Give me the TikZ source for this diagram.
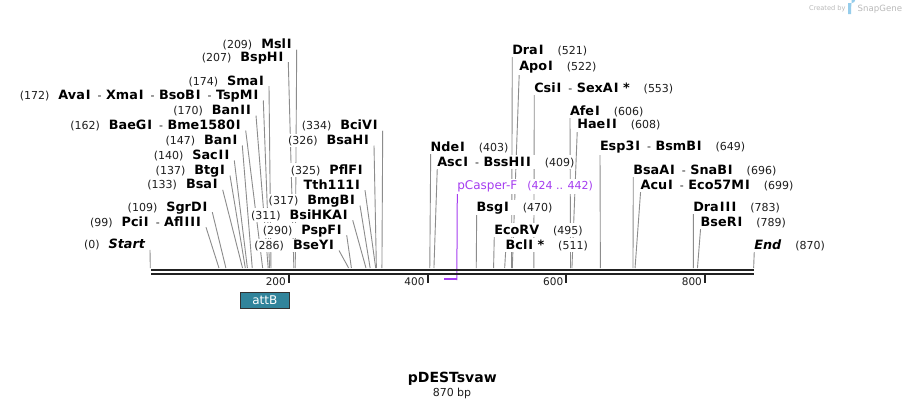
\documentclass[tikz,border=0pt]{standalone}
\usepackage{fontspec}
\setmainfont{DejaVu Sans}
\XeTeXinterchartokenstate=1
\newXeTeXintercharclass\Icls
\XeTeXcharclass`\I=\Icls
\XeTeXinterchartoks 0 \Icls = {\kern0.9pt}
\XeTeXinterchartoks \Icls \Icls = {\kern1.1pt}
\XeTeXinterchartoks \Icls 0 = {\kern0.5pt}
\definecolor{cutc}{RGB}{140,140,140}
\definecolor{numc}{RGB}{30,30,30}
\definecolor{bbc}{RGB}{34,34,34}
\definecolor{primc}{RGB}{165,60,240}
\definecolor{featc}{RGB}{49,132,155}
\definecolor{featb}{RGB}{50,50,50}
\definecolor{logoc}{RGB}{185,185,185}
\definecolor{logob}{RGB}{150,205,235}
\newcommand\numf{\mdseries\upshape\fontsize{11}{13}\selectfont\color{numc}}
\newcommand\namef{\fontsize{12.8}{15}\selectfont\bfseries}
\newcommand\sepx{\hspace{7pt}{\numf -}\hspace{4.5pt}}
\pgfdeclarelayer{bg}
\pgfsetlayers{bg,main}
\tikzset{
  lbl/.style={inner xsep=1pt, inner ysep=1.5pt, outer sep=0pt, fill=white},
  cut/.style={draw=cutc, line width=0.9pt},
}
% left-side label: id, right edge of name, y centre, number, names, site
\newcommand\enzL[6]{%
  \node[lbl,anchor=base east] (#1) at (#2+1,#3+4.5) {{\numf #4}\hspace{9pt}{\namef #5}};
  \coordinate (#1s) at ({150.3+#6*0.6935},268);
  \begin{pgfonlayer}{bg}
    \draw[cut] ([xshift=4pt,yshift=-1pt]#1.base east) -- (#1s);
  \end{pgfonlayer}
}
% right-side label: id, left edge of name, y centre, names, number, site
\newcommand\enzR[6]{%
  \node[lbl,anchor=base west] (#1) at (#2-1,#3+4.5) {{\namef #4}\hspace{14pt}{\numf #5}};
  \coordinate (#1s) at ({150.3+#6*0.6935},268);
  \begin{pgfonlayer}{bg}
    \draw[cut] ([xshift=1pt,yshift=-1pt]#1.base west) -- (#1s);
  \end{pgfonlayer}
}
\begin{document}
\begin{tikzpicture}[x=1pt,y=-1pt]
\useasboundingbox (0,0) rectangle (906,408);
\begin{pgfonlayer}{bg}
  \fill[white] (0,0) rectangle (906,408);
\end{pgfonlayer}

% left group
\enzL{msl}{291.7}{44}{(209)}{MslI}{209}
\enzL{bsph}{283.3}{56.7}{(207)}{BspHI}{207}
\enzL{sma}{264}{80.7}{(174)}{SmaI}{174}
\enzL{ava}{258.3}{95}{(172)}{AvaI\sepx XmaI\sepx BsoBI\sepx TspMI}{172}
\enzL{bantwo}{251}{110}{(170)}{BanII}{170}
\enzL{baeg}{240.7}{125}{(162)}{BaeGI\sepx Bme1580I}{162}
\enzL{banone}{237.3}{140}{(147)}{BanI}{147}
\enzL{sac}{229.3}{155}{(140)}{SacII}{140}
\enzL{btg}{225}{170}{(137)}{BtgI}{137}
\enzL{bsa}{217.7}{184.3}{(133)}{BsaI}{133}
\enzL{sgr}{207.3}{206.7}{(109)}{SgrDI}{109}
\enzL{pci}{201}{221.7}{(99)}{PciI\sepx AflIII}{99}
\enzL{start}{145}{244.3}{(0)}{\itshape Start}{0}

% middle-left group
\enzL{bci}{377.7}{125}{(334)}{BciVI}{334}
\enzL{bsah}{369}{140}{(326)}{BsaHI}{326}
\node[lbl,anchor=base east] (pfl) at (363.7,174.5) {{\numf (325)}\hspace{9pt}{\namef PflFI}};
\node[lbl,anchor=base east] (tth) at (361,189.2) {{\namef Tth111I}};
\coordinate (tths) at ({150.3+325*0.6935},268);
\begin{pgfonlayer}{bg}
  \draw[cut] ([xshift=4pt,yshift=-1pt]tth.base east) -- (tths);
\end{pgfonlayer}
\enzL{bmg}{355}{200}{(317)}{BmgBI}{317}
\enzL{bsihk}{347.7}{214.7}{(311)}{BsiHKAI}{311}
\enzL{pspf}{341.7}{229.7}{(290)}{PspFI}{290}
\enzL{bsey}{334}{245}{(286)}{BseYI}{286}

% right groups
\enzR{nde}{430.7}{146.7}{NdeI}{(403)}{403}
\enzR{asc}{437.3}{161.7}{AscI\sepx BssHII}{(409)}{409}
\enzR{bsg}{476.7}{206.7}{BsgI}{(470)}{470}
\enzR{ecorv}{494.3}{229.5}{EcoRV}{(495)}{495}
\enzR{bcl}{505.7}{245}{BclI *}{(511)}{511}
\enzR{dra}{512.3}{50}{DraI}{(521)}{521}
\enzR{apo}{519.3}{66}{ApoI}{(522)}{522}
\enzR{csi}{534.3}{87.7}{CsiI\sepx SexAI *}{(553)}{553}
\enzR{afe}{570}{111}{AfeI}{(606)}{606}
\enzR{hae}{577.3}{124.3}{HaeII}{(608)}{608}
\enzR{esp}{600}{146}{Esp3I\sepx BsmBI}{(649)}{649}
\enzR{bsaa}{633.3}{170}{BsaAI\sepx SnaBI}{(696)}{696}
\enzR{acu}{640.7}{184.7}{AcuI\sepx Eco57MI}{(699)}{699}
\enzR{drathree}{693.3}{206.7}{DraIII}{(783)}{783}
\enzR{bser}{700.7}{221.7}{BseRI}{(789)}{789}
\enzR{endl}{754.3}{245}{\itshape End}{(870)}{870}

% primer
\node[lbl,anchor=base west,text=primc] (pcas) at (456.3,189.5)
  {{\fontsize{12}{14}\selectfont pCasper-F}\hspace{10pt}{\fontsize{11}{13}\selectfont (424 .. 442)}};
\coordinate (pa) at ({150.3+424*0.6935},279);
\coordinate (pb) at ({150.3+442*0.6935},279);
\begin{pgfonlayer}{bg}
  \draw[primc, line width=1pt] ([xshift=1pt]pcas.south west) -- (pb |- 0,280);
\end{pgfonlayer}
\draw[primc, line width=2pt] (pa) -- (pb);

% backbone
\draw[bbc, line width=2.2pt] (151,270) -- (754,270);
\draw[bbc, line width=2.2pt] (151,274.3) -- (754,274.3);

% ticks
\foreach \v in {200,400,600,800}{
  \draw[bbc, line width=2pt] ({150.3+\v*0.6935},275) -- ({150.3+\v*0.6935},283);
  \node[inner sep=0pt, anchor=base east, font=\fontsize{10.5}{12}\selectfont, text=numc] (tick\v) at ({150.3+\v*0.6935-3},285.5) {\v};
}

% feature
\node[draw=featb, fill=featc, text=white, line width=0.8pt, minimum width=49.7pt, minimum height=16.7pt,
  inner sep=0pt, font=\fontsize{12}{14}\selectfont] (attB) at (264.85,300.35) {attB};

% title
\node[inner sep=0pt, anchor=base, font=\bfseries\fontsize{14}{16}\selectfont] (title) at (452.3,382.5) {pDESTsvaw};
\node[inner sep=0pt, anchor=base, font=\fontsize{11}{13}\selectfont, text=numc] (len) at (452,396.5) {870 bp};

% logo
\node[inner sep=0pt, anchor=base west, font=\fontsize{6.6}{8}\selectfont, text=logoc] (createdby) at (809,10) {Created by};
\fill[logob] (848,3) -- (852,3) arc (90:-90:3.2) -- (851,9.4) -- (851,14) -- (848,14) -- cycle;
\node[inner sep=0pt, anchor=base west, font=\fontsize{8.6}{10}\selectfont, text=logoc] (snapgene) at (857.5,11) {SnapGene};
\end{tikzpicture}
\end{document}
